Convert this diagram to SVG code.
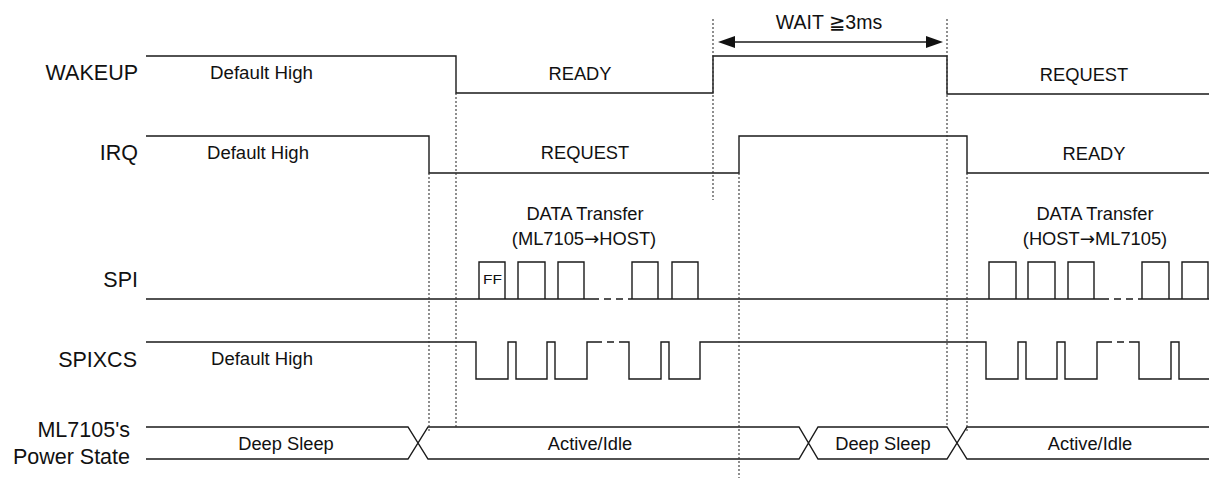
<svg xmlns="http://www.w3.org/2000/svg" width="1209" height="478" viewBox="0 0 1209 478">
<style>
.sig{fill:none;stroke:#1a1a1a;stroke-width:1.4}
.dsh{fill:none;stroke:#1a1a1a;stroke-width:1.4;stroke-dasharray:7,5}
.guide{fill:none;stroke:#333;stroke-width:1.1;stroke-dasharray:2,2}
.lbl{font-family:"Liberation Sans",Arial,sans-serif;font-size:21.5px;fill:#111;text-anchor:end}
.t{font-family:"Liberation Sans",Arial,sans-serif;font-size:18.3px;fill:#111;text-anchor:middle}
.dh{font-family:"Liberation Sans",Arial,sans-serif;font-size:17.5px;fill:#111}
.ar{font-family:"DejaVu Sans",sans-serif}
</style>
<rect width="1209" height="478" fill="#fff"/>
<g id="wakeup">
<text class="lbl" x="138" y="80">WAKEUP</text>
<path class="sig" d="M146,56 H456 V93 H713 V56 H947 V94 H1209"/>
<text class="dh" x="210" y="79" textLength="103" lengthAdjust="spacingAndGlyphs">Default High</text>
<text class="t" x="580" y="80">READY</text>
<text class="t" x="1084" y="81">REQUEST</text>
</g>
<g id="irq">
<text class="lbl" x="138" y="160">IRQ</text>
<path class="sig" d="M146,136 H429 V173 H739 V136 H967 V173 H1209"/>
<text class="dh" x="207" y="159" textLength="102" lengthAdjust="spacingAndGlyphs">Default High</text>
<text class="t" x="585" y="159">REQUEST</text>
<text class="t" x="1094" y="160">READY</text>
</g>
<g id="spi">
<text class="lbl" x="138" y="287">SPI</text>
<path class="sig" d="M146,299 H592 M632,299 H1102 M1142,299 H1209"/>
<path class="dsh" d="M592,299 H632 M1102,299 H1142"/>
<path class="sig" d="M479,299 V262 H505 V299 M518,299 V262 H545 V299 M558,299 V262 H584 V299 M632,299 V262 H658 V299 M672,299 V262 H698 V299"/>
<path class="sig" d="M989,299 V262 H1016 V299 M1028,299 V262 H1055 V299 M1068,299 V262 H1094 V299 M1142,299 V262 H1169 V299 M1182,299 V262 H1208 V299"/>
<text x="483" y="284" textLength="19" lengthAdjust="spacingAndGlyphs" style="font-family:'Liberation Sans',Arial,sans-serif;font-size:13px;fill:#111">FF</text>
<text class="t" x="585" y="220">DATA Transfer</text>
<text class="t" x="584" y="245">(ML7105<tspan class="ar">→</tspan>HOST)</text>
<text class="t" x="1095" y="220">DATA Transfer</text>
<text class="t" x="1095" y="245">(HOST<tspan class="ar">→</tspan>ML7105)</text>
</g>
<g id="spixcs">
<text class="lbl" x="137" y="367">SPIXCS</text>
<path class="sig" d="M146,342 H476 V379 H508 V342 H516 V379 H547 V342 H555 V379 H587 V342 H595 M622,342 H629 V379 H661 V342 H669 V379 H700 V342 H986 V379 H1018 V342 H1026 V379 H1057 V342 H1065 V379 H1097 V342 H1105 M1132,342 H1139 V379 H1171 V342 H1179 V379 H1209"/>
<path class="dsh" d="M595,342 H622 M1105,342 H1132"/>
<text class="dh" x="211" y="365" textLength="102" lengthAdjust="spacingAndGlyphs">Default High</text>
</g>
<g id="power">
<text class="lbl" x="130" y="437">ML7105's</text>
<text class="lbl" x="130" y="464">Power State</text>
<path class="sig" d="M146,427 H408 L428,459 H799 L818,427 H947 L967,459 H1209 M146,459 H408 L428,427 H799 L818,459 H947 L967,427 H1209"/>
<text class="t" x="286" y="450">Deep Sleep</text>
<text class="t" x="590" y="450">Active/Idle</text>
<text class="t" x="883" y="450">Deep Sleep</text>
<text class="t" x="1090" y="450">Active/Idle</text>
</g>
<g id="connectors">
<path class="guide" d="M429,173 V432 M456,93 V429 M713,19 V200 M739,173 V478 M947,19 V428 M967,173 V433"/>
<path class="sig" d="M734,42 H927"/>
<polygon points="718,42 735,36 735,48" fill="#111"/>
<polygon points="943,42 926,36 926,48" fill="#111"/>
<text class="t" x="829" y="29" style="font-size:19.5px">WAIT <tspan style="font-family:'DejaVu Sans','Noto Sans CJK JP',sans-serif">≧</tspan>3ms</text>
</g>
</svg>
